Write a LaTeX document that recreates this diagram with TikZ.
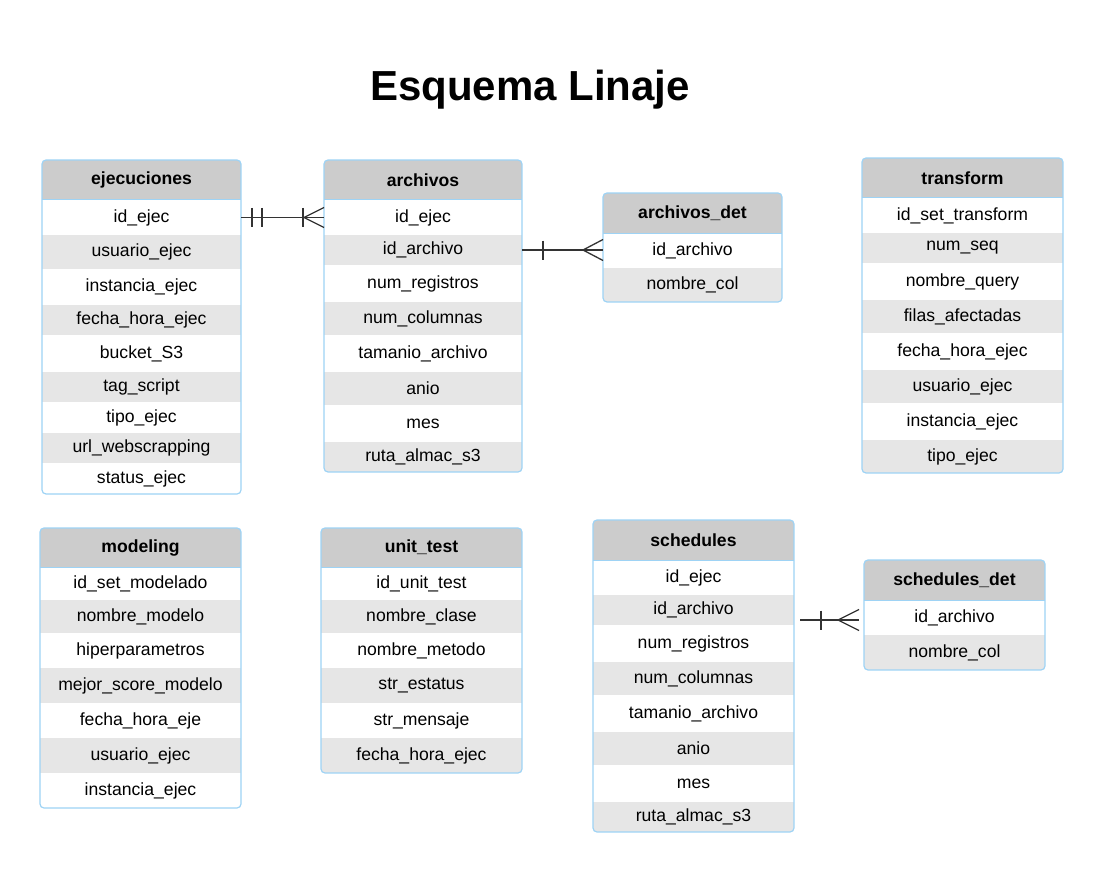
\documentclass[tikz,border=0pt]{standalone}
\usepackage{fontspec}
\setmainfont{Liberation Sans}
\usetikzlibrary{calc}
\definecolor{hdrgray}{HTML}{CCCCCC}
\definecolor{rowgray}{HTML}{E6E6E6}
\definecolor{frameblue}{HTML}{9ED3F5}
\definecolor{linkgray}{HTML}{333333}
\tikzset{
  cell/.style={inner sep=0pt, outer sep=0pt, draw=none, text=black,
    font=\fontsize{17.6}{20}\selectfont},
  frame/.style={draw=frameblue, line width=1.2pt, rounded corners=4pt},
  hline/.style={draw=frameblue, line width=1pt},
  rel/.style={draw=linkgray, line width=1.3pt},
  titletext/.style={font=\fontsize{42}{48}\selectfont\bfseries, text=black, inner sep=0pt}
}
% name, x1, x2, y1, y2, fill, text
\newcommand\dbcell[7]{\node[cell,fill=#6,minimum width={(#3-#2)*1pt},minimum height={(#5-#4)*1pt}] (#1) at ({(#2+#3)/2},{(#4+#5)/2}) {#7};}
\newcommand\dbclip[4]{\clip[rounded corners=4pt] (#1,#3) rectangle (#2,#4);}
\newcommand\dbframe[5]{\draw[frame] (#1,#3) rectangle (#2,#4); \draw[hline] (#1,#5) -- (#2,#5);}
\begin{document}
\begin{tikzpicture}[x=1pt,y=-1pt]
\useasboundingbox[fill=white] (0,0) rectangle (1104,872);

\node[titletext] (title) at (530,90) {Esquema Linaje};

% ---------------- ejecuciones
\begin{scope}
\dbclip{42}{241}{160}{494}
\dbcell{ejec-h}{42}{241}{160}{200}{hdrgray}{\textbf{ejecuciones}}
\dbcell{ejec-1}{42}{241}{200}{235}{white}{id\_ejec}
\dbcell{ejec-2}{42}{241}{235}{269}{rowgray}{usuario\_ejec}
\dbcell{ejec-3}{42}{241}{269}{305}{white}{instancia\_ejec}
\dbcell{ejec-4}{42}{241}{305}{335}{rowgray}{fecha\_hora\_ejec}
\dbcell{ejec-5}{42}{241}{335}{372}{white}{bucket\_S3}
\dbcell{ejec-6}{42}{241}{372}{402}{rowgray}{tag\_script}
\dbcell{ejec-7}{42}{241}{402}{433}{white}{tipo\_ejec}
\dbcell{ejec-8}{42}{241}{433}{463}{rowgray}{url\_webscrapping}
\dbcell{ejec-9}{42}{241}{463}{494}{white}{status\_ejec}
\end{scope}
\dbframe{42}{241}{160}{494}{200}

% ---------------- archivos
\begin{scope}
\dbclip{324}{522}{160}{472}
\dbcell{arch-h}{324}{522}{160}{200}{hdrgray}{\textbf{archivos}}
\dbcell{arch-1}{324}{522}{200}{235}{white}{id\_ejec}
\dbcell{arch-2}{324}{522}{235}{265}{rowgray}{id\_archivo}
\dbcell{arch-3}{324}{522}{265}{302}{white}{num\_registros}
\dbcell{arch-4}{324}{522}{302}{335}{rowgray}{num\_columnas}
\dbcell{arch-5}{324}{522}{335}{372}{white}{tamanio\_archivo}
\dbcell{arch-6}{324}{522}{372}{405}{rowgray}{anio}
\dbcell{arch-7}{324}{522}{405}{442}{white}{mes}
\dbcell{arch-8}{324}{522}{442}{472}{rowgray}{ruta\_almac\_s3}
\end{scope}
\dbframe{324}{522}{160}{472}{200}

% ---------------- archivos_det
\begin{scope}
\dbclip{603}{782}{193}{302}
\dbcell{ad-h}{603}{782}{193}{233}{hdrgray}{\textbf{archivos\_det}}
\dbcell{ad-1}{603}{782}{233}{268}{white}{id\_archivo}
\dbcell{ad-2}{603}{782}{268}{302}{rowgray}{nombre\_col}
\end{scope}
\dbframe{603}{782}{193}{302}{233}

% ---------------- transform
\begin{scope}
\dbclip{862}{1063}{158}{473}
\dbcell{tr-h}{862}{1063}{158}{198}{hdrgray}{\textbf{transform}}
\dbcell{tr-1}{862}{1063}{198}{233}{white}{id\_set\_transform}
\dbcell{tr-2}{862}{1063}{233}{263}{rowgray}{num\_seq}
\dbcell{tr-3}{862}{1063}{263}{300}{white}{nombre\_query}
\dbcell{tr-4}{862}{1063}{300}{333}{rowgray}{filas\_afectadas}
\dbcell{tr-5}{862}{1063}{333}{370}{white}{fecha\_hora\_ejec}
\dbcell{tr-6}{862}{1063}{370}{403}{rowgray}{usuario\_ejec}
\dbcell{tr-7}{862}{1063}{403}{440}{white}{instancia\_ejec}
\dbcell{tr-8}{862}{1063}{440}{473}{rowgray}{tipo\_ejec}
\end{scope}
\dbframe{862}{1063}{158}{473}{198}

% ---------------- modeling
\begin{scope}
\dbclip{40}{241}{528}{808}
\dbcell{mod-h}{40}{241}{528}{567}{hdrgray}{\textbf{modeling}}
\dbcell{mod-1}{40}{241}{567}{600}{white}{id\_set\_modelado}
\dbcell{mod-2}{40}{241}{600}{633}{rowgray}{nombre\_modelo}
\dbcell{mod-3}{40}{241}{633}{668}{white}{hiperparametros}
\dbcell{mod-4}{40}{241}{668}{703}{rowgray}{mejor\_score\_modelo}
\dbcell{mod-5}{40}{241}{703}{738}{white}{fecha\_hora\_eje}
\dbcell{mod-6}{40}{241}{738}{773}{rowgray}{usuario\_ejec}
\dbcell{mod-7}{40}{241}{773}{808}{white}{instancia\_ejec}
\end{scope}
\dbframe{40}{241}{528}{808}{567}

% ---------------- unit_test
\begin{scope}
\dbclip{321}{522}{528}{773}
\dbcell{ut-h}{321}{522}{528}{567}{hdrgray}{\textbf{unit\_test}}
\dbcell{ut-1}{321}{522}{567}{600}{white}{id\_unit\_test}
\dbcell{ut-2}{321}{522}{600}{633}{rowgray}{nombre\_clase}
\dbcell{ut-3}{321}{522}{633}{668}{white}{nombre\_metodo}
\dbcell{ut-4}{321}{522}{668}{703}{rowgray}{str\_estatus}
\dbcell{ut-5}{321}{522}{703}{738}{white}{str\_mensaje}
\dbcell{ut-6}{321}{522}{738}{773}{rowgray}{fecha\_hora\_ejec}
\end{scope}
\dbframe{321}{522}{528}{773}{567}

% ---------------- schedules
\begin{scope}
\dbclip{593}{794}{520}{832}
\dbcell{sch-h}{593}{794}{520}{560}{hdrgray}{\textbf{schedules}}
\dbcell{sch-1}{593}{794}{560}{595}{white}{id\_ejec}
\dbcell{sch-2}{593}{794}{595}{625}{rowgray}{id\_archivo}
\dbcell{sch-3}{593}{794}{625}{662}{white}{num\_registros}
\dbcell{sch-4}{593}{794}{662}{695}{rowgray}{num\_columnas}
\dbcell{sch-5}{593}{794}{695}{732}{white}{tamanio\_archivo}
\dbcell{sch-6}{593}{794}{732}{765}{rowgray}{anio}
\dbcell{sch-7}{593}{794}{765}{802}{white}{mes}
\dbcell{sch-8}{593}{794}{802}{832}{rowgray}{ruta\_almac\_s3}
\end{scope}
\dbframe{593}{794}{520}{832}{560}

% ---------------- schedules_det
\begin{scope}
\dbclip{864}{1045}{560}{670}
\dbcell{sd-h}{864}{1045}{560}{600}{hdrgray}{\textbf{schedules\_det}}
\dbcell{sd-1}{864}{1045}{600}{635}{white}{id\_archivo}
\dbcell{sd-2}{864}{1045}{635}{670}{rowgray}{nombre\_col}
\end{scope}
\dbframe{864}{1045}{560}{670}{600}

% ---------------- connectors
% ejecuciones -> archivos (one-and-only-one to one-or-many)
\draw[rel] (ejec-1.east) -- (arch-1.west);
\draw[rel] ($(ejec-1.east)+(11,-9.5)$) -- ++(0,19);
\draw[rel] ($(ejec-1.east)+(21,-9.5)$) -- ++(0,19);
\draw[rel] ($(arch-1.west)+(-21,-9.5)$) -- ++(0,19);
\draw[rel] ($(arch-1.west)+(0,-10)$) -- ($(arch-1.west)+(-20,0)$) -- ($(arch-1.west)+(0,10)$);

% archivos -> archivos_det
\coordinate (c2a) at (arch-2.east);
\coordinate (c2b) at (c2a -| ad-1.west);
\draw[rel] (c2a) -- (c2b);
\draw[rel] ($(c2a)+(21,-9.5)$) -- ++(0,19);
\draw[rel] ($(c2b)+(0,-10.5)$) -- ($(c2b)+(-20,0)$) -- ($(c2b)+(0,10.5)$);

% schedules -> schedules_det
\coordinate (c3a) at ($(sch-2.east)+(6,10)$);
\coordinate (c3b) at ($(c3a -| sd-1.west)+(-5,0)$);
\draw[rel] (c3a) -- (c3b);
\draw[rel] ($(c3a)+(21,-9.5)$) -- ++(0,19);
\draw[rel] ($(c3b)+(0,-10.5)$) -- ($(c3b)+(-21,0)$) -- ($(c3b)+(0,10.5)$);
\end{tikzpicture}
\end{document}
